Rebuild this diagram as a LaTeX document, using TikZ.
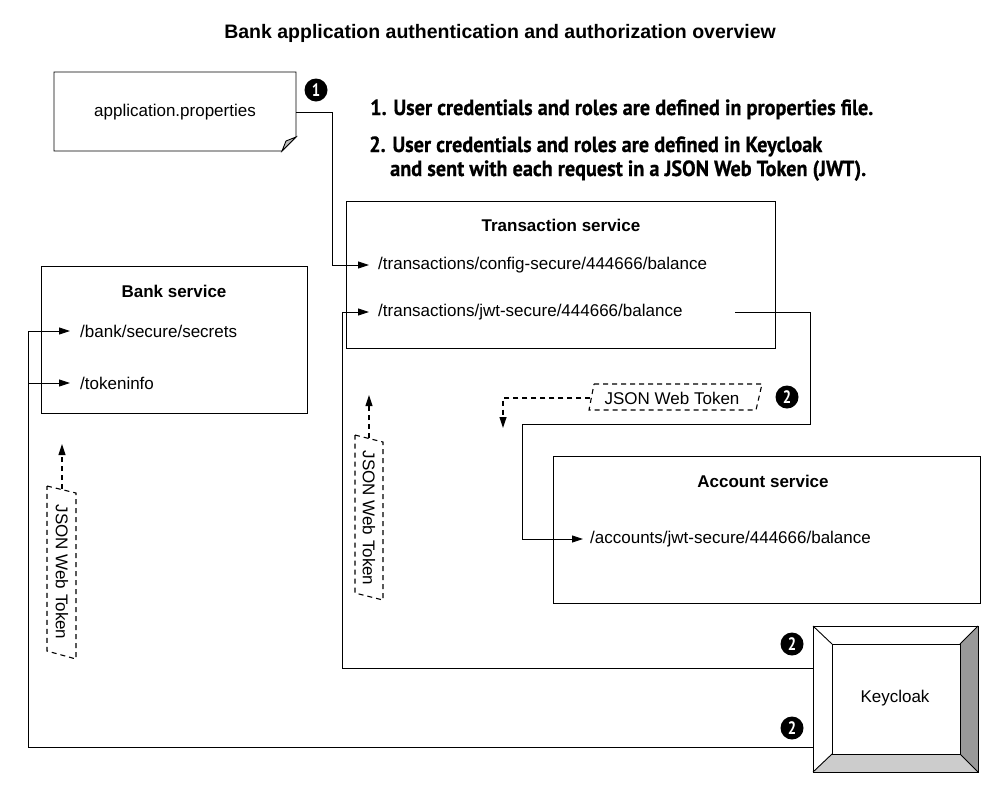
\documentclass[tikz,border=0pt]{standalone}
\usepackage{fontspec}
\setmainfont{Liberation Sans}
\newfontfamily\condfont[FakeStretch=0.82]{PT Sans}
\newfontfamily\notefont[FakeStretch=0.92, FakeBold=0.6]{PT Sans}
\usetikzlibrary{arrows.meta,calc}
\tikzset{
  box/.style={draw, line width=0.9pt},
  conn/.style={line width=0.9pt},
  arr/.style={-{Triangle[length=11pt,width=7pt]}},
  dsh/.style={line width=1.1pt, dash pattern=on 5pt off 4pt},
  tok/.style={draw, dsh},
  lbl/.style={font=\fontsize{17}{20}\selectfont},
  item/.style={lbl, anchor=west, inner xsep=9pt, inner ysep=2pt},
  ttl/.style={font=\bfseries\fontsize{17}{20}\selectfont},
  badge/.style={circle, fill=black, text=white, minimum size=23pt, inner sep=0pt, font=\condfont\bfseries\fontsize{18}{18}\selectfont},
  note/.style={anchor=base west, inner sep=0pt, font=\notefont\bfseries\fontsize{22}{24}\selectfont}
}
\begin{document}
\begin{tikzpicture}[x=1pt,y=-1pt]
\useasboundingbox (0,0) rectangle (1000,804);
% title
\node[font=\bfseries\fontsize{19.5}{22}\selectfont] (title) at (500,33) {Bank application authentication and authorization overview};
% notes
\node[note] (n1) at (370,115) {1. User credentials and roles are defined in properties file.};
\node[note] (n2) at (369,152) {2. User credentials and roles are defined in Keycloak};
\node[note] (n3) at (390,176) {and sent with each request in a JSON Web Token (JWT).};
% application.properties
\draw[box, fill=white] (54,72) -- (296,72) -- (296,137) -- (282,151) -- (54,151) -- cycle;
\draw[line width=0.9pt, fill=black!25] (296,137) -- (286,141) -- (282,151) -- cycle;
\node[lbl, minimum width=242pt, minimum height=20pt, inner sep=0pt] (app) at (175,112) {application.properties};
\node[badge] (b1) at (316,90) {1};
% Transaction service
\draw[box] (346,201) rectangle (775,348);
\node[ttl] (tst) at (561,225) {Transaction service};
\node[item] (cfg) at (369,265) {/transactions/config-secure/444666/balance};
\node[item] (jwt) at (369,312) {/transactions/jwt-secure/444666/balance};
\coordinate (jwtout) at (735,312);
% Bank service
\draw[box] (41,266) rectangle (307,413);
\node[ttl] (bst) at (174,291) {Bank service};
\node[item, inner xsep=10pt] (sec) at (70,331) {/bank/secure/secrets};
\node[item, inner xsep=10pt] (tok) at (70,383) {/tokeninfo};
% Account service
\draw[box] (553,456) rectangle (980,603);
\node[ttl] (ast) at (763,481) {Account service};
\node[item, inner xsep=7pt] (acc) at (583,539) {/accounts/jwt-secure/444666/balance};
% Keycloak
\fill[black!40] (978,626) -- (978,772) -- (960,754) -- (960,644) -- cycle;
\fill[black!20] (813,772) -- (978,772) -- (960,754) -- (832,754) -- cycle;
\draw[line width=0.9pt] (813,626) rectangle (978,772);
\draw[line width=0.9pt] (832,644) rectangle (960,754);
\draw[line width=0.9pt] (813,626) -- (832,644) (978,626) -- (960,644) (813,772) -- (832,754) (978,772) -- (960,754);
\node[minimum width=165pt, minimum height=146pt, inner sep=0pt] (kcbox) at (895.5,699) {};
\node[lbl] (kc) at (895,698) {Keycloak};
\node[badge] (b3) at (792,644) {2};
\node[badge] (b4) at (792,728) {2};
% connectors
\draw[conn, arr] (app.east) -- (332,112) |- (cfg.west);
\draw[conn, arr] (kcbox.west |- 0,668) -- (342,668) |- (jwt.west);
\draw[conn, arr] (jwtout) -- (810,312) -- (810,424) -- (522,424) |- (acc.west);
\draw[conn, arr] (kcbox.west |- 0,747) -- (28,747) |- (sec.west);
\draw[conn, arr] (28,383) -- (tok.west);
% JSON Web Token (horizontal)
\node[lbl, inner xsep=14pt] (jh) at (672,398) {JSON Web Token};
\draw[tok] (594,384) -- (762,384) -- (756,410) -- (589,410) -- cycle;
\draw[dsh, arr] (jh.west) -- (503,398) -- (503,428);
\node[badge] (b2) at (787,397) {2};
% JSON Web Token (vertical, bank)
\node[lbl, rotate=-90] (jv1) at (62,572) {JSON Web Token};
\draw[tok] (47,486) -- (76,493) -- (76,659) -- (47,651) -- cycle;
\draw[dsh, arr] (62,489) -- (62,444);
% JSON Web Token (vertical, transaction)
\node[lbl, rotate=-90] (jv2) at (369,518) {JSON Web Token};
\draw[tok] (355,435) -- (383,442) -- (383,600) -- (355,593) -- cycle;
\draw[dsh, arr] (369,438) -- (369,395);
\end{tikzpicture}
\end{document}
